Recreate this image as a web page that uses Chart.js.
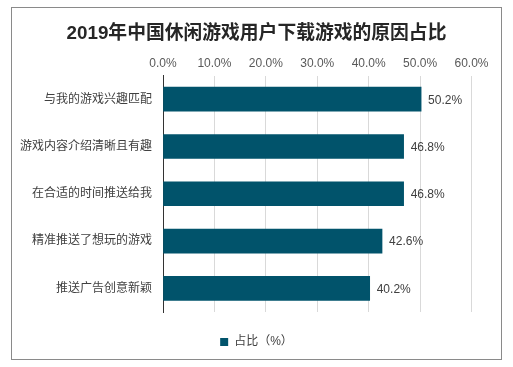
<!DOCTYPE html>
<html>
<head>
<meta charset="utf-8">
<script src="https://cdn.jsdelivr.net/npm/chart.js@4.4.0/dist/chart.umd.min.js"></script>
<style>
  html, body { margin: 0; padding: 0; background: #fff; }
  #wrap { position: relative; width: 513px; height: 367px; }
  #frame { position: absolute; left: 11px; top: 7px; width: 491px; height: 353px; box-sizing: border-box; border: 1px solid #8a8a8a; pointer-events: none; }
</style>
</head>
<body>
<div id="wrap">
  <canvas id="chart" width="513" height="367"></canvas>
  <div id="frame"></div>
</div>
<script>
const categories = ['与我的游戏兴趣匹配', '游戏内容介绍清晰且有趣', '在合适的时间推送给我', '精准推送了想玩的游戏', '推送广告创意新颖'];
const shares = [50.2, 46.8, 46.8, 42.6, 40.2];
const xTicks = [0, 10, 20, 30, 40, 50, 60];

const fontFamily = '"Liberation Sans", "Noto Sans CJK SC", sans-serif';
const barColor = '#01536b';

// draws the value next to the end of each bar
const valueLabels = {
    id: 'valueLabels',
    afterDatasetsDraw(chart) {
        const ctx = chart.ctx;
        const meta = chart.getDatasetMeta(0);
        ctx.save();
        ctx.font = '12px ' + fontFamily;
        ctx.fillStyle = '#404040';
        ctx.textAlign = 'left';
        ctx.textBaseline = 'middle';
        meta.data.forEach((bar, i) => {
            ctx.fillText(shares[i].toFixed(1) + '%', bar.x + 7, bar.y + 1);
        });
        ctx.restore();
    }
};

new Chart(document.getElementById('chart'), {
    type: 'bar',
    data: {
        labels: categories,
        datasets: [{
            label: '占比（%）',
            data: shares,
            backgroundColor: barColor,
            borderWidth: 0,
            barThickness: 24
        }]
    },
    options: {
        indexAxis: 'y',
        responsive: false,
        animation: false,
        layout: { padding: { left: 20, right: 20, top: 0, bottom: 9 } },
        scales: {
            x: {
                position: 'top',
                min: 0,
                max: 60,
                afterBuildTicks: s => { s.ticks = xTicks.map(v => ({ value: v })); },
                afterFit: s => { s.height = 30; },
                ticks: {
                    padding: 5,
                    color: '#595959',
                    font: { family: fontFamily, size: 12 },
                    callback: v => v.toFixed(1) + '%'
                },
                grid: { color: '#d9d9d9', drawTicks: false },
                border: { display: false }
            },
            y: {
                afterFit: s => { s.width = 143; },
                ticks: {
                    padding: 11,
                    color: '#404040',
                    font: { family: fontFamily, size: 12 }
                },
                grid: { display: false, drawTicks: false },
                border: { display: true, color: '#333', width: 1 }
            },
            // empty space on the right so the plot ends where the original does
            yPad: {
                type: 'category',
                position: 'right',
                afterFit: s => { s.width = 21.5; },
                ticks: { display: false },
                grid: { display: false, drawTicks: false },
                border: { display: false }
            }
        },
        plugins: {
            title: {
                display: true,
                text: '2019年中国休闲游戏用户下载游戏的原因占比',
                color: '#262626',
                font: { family: fontFamily, size: 18.8, weight: 'bold' },
                padding: { top: 23, bottom: 0 }
            },
            legend: {
                position: 'bottom',
                labels: {
                    boxWidth: 8,
                    boxHeight: 8,
                    color: '#404040',
                    font: { family: fontFamily, size: 12 },
                    padding: 24
                }
            },
            tooltip: { enabled: false }
        }
    },
    plugins: [valueLabels]
});
</script>
</body>
</html>
